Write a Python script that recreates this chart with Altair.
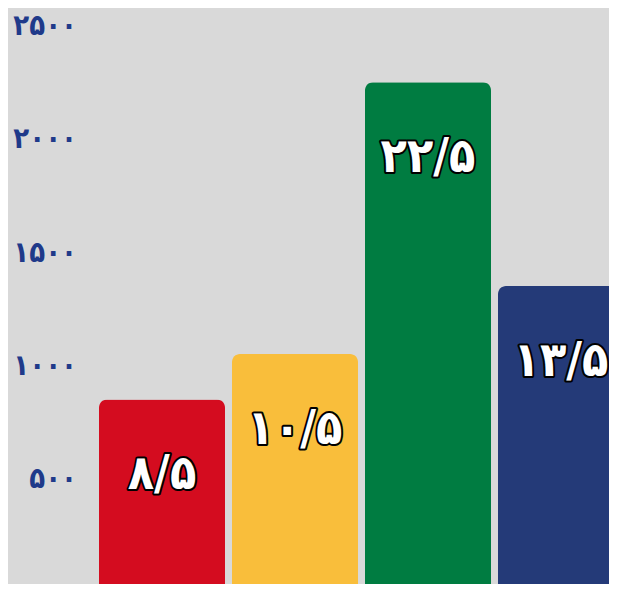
import altair as alt
import pandas as pd

categories = ["A", "B", "C", "D"]
values = [850, 1050, 2250, 1350]
bar_labels = ["۸/۵", "۱۰/۵", "۲۲/۵", "۱۳/۵"]
colors = ["#d40c1f", "#f9be3b", "#007c41", "#243a78"]
tick_values = [0, 500, 1000, 1500, 2000, 2500]
tick_labels = ["۰", "۵۰۰", "۱۰۰۰", "۱۵۰۰", "۲۰۰۰", "۲۵۰۰"]

df = pd.DataFrame({"cat": categories, "value": values, "label": bar_labels})

label_expr = " : ".join(
    [f"datum.value == {v} ? '{t}'" for v, t in zip(tick_values, tick_labels)]
) + " : ''"

FONT = "DejaVu Sans Condensed, DejaVu Sans"

x = alt.X("cat:N", sort=categories,
          scale=alt.Scale(paddingInner=7 / 133, paddingOuter=3.5 / 133),
          axis=None)
y = alt.Y("value:Q",
          scale=alt.Scale(domain=[0, 2500], nice=False),
          axis=alt.Axis(values=tick_values, labelExpr=label_expr, title=None,
                        domain=False, ticks=False, grid=False,
                        labelFont=FONT, labelFontWeight="bold",
                        labelFontSize=29, labelColor="#1f3a8a",
                        labelPadding=19))

bars = alt.Chart(df).mark_bar(cornerRadiusTopLeft=8, cornerRadiusTopRight=8).encode(
    x=x, y=y,
    color=alt.Color("cat:N", scale=alt.Scale(domain=categories, range=colors), legend=None),
)

outline = alt.Chart(df).mark_text(
    font=FONT, fontWeight="bold", fontSize=48, dy=76,
    baseline="middle", align="center",
    fill="black", stroke="black", strokeWidth=4, strokeJoin="round",
).encode(x=alt.X("cat:N", sort=categories), y=alt.Y("value:Q"), text="label:N")

texts = alt.Chart(df).mark_text(
    font=FONT, fontWeight="bold", fontSize=48, dy=76,
    baseline="middle", align="center", fill="white",
).encode(x=alt.X("cat:N", sort=categories), y=alt.Y("value:Q"), text="label:N")

chart = alt.layer(bars, outline, texts).properties(
    width=532, height=566.5,
    background="#d9d9d9",
    autosize=alt.AutoSizeParams(type="none"),
    padding={"left": 87.5, "top": 17.5, "right": -18.5, "bottom": -8.5},
).configure_view(stroke=None)

chart.save("out.html", embed_options={"renderer": "svg", "actions": False})
